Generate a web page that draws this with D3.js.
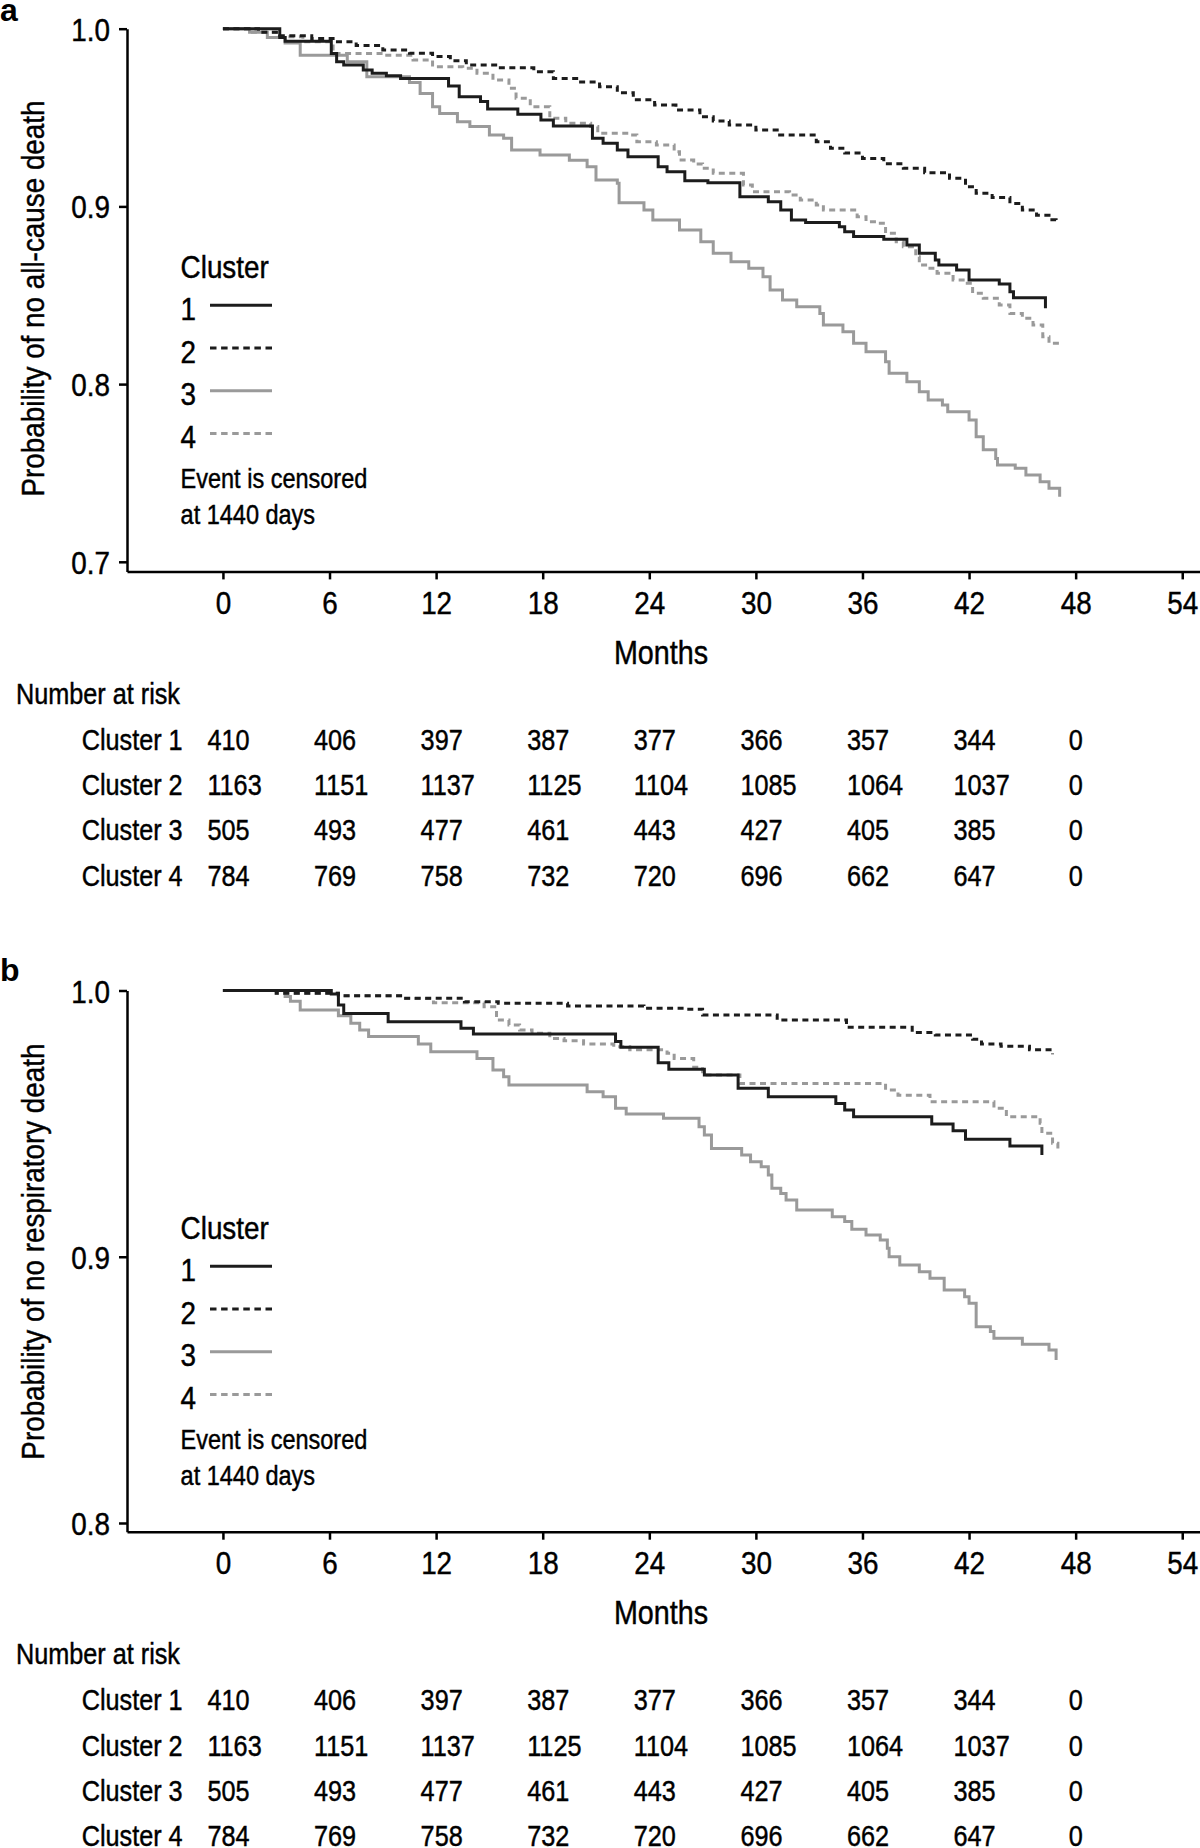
<!DOCTYPE html>
<html>
<head>
<meta charset="utf-8">
<script src="https://cdn.jsdelivr.net/npm/d3@7"></script>
<style>
  html, body { margin: 0; padding: 0; background: #fff; }
  svg { display: block; }
</style>
</head>
<body>
<div id="chart"></div>
<script>
// ---------------- DATA ----------------
const xTicks = [0, 6, 12, 18, 24, 30, 36, 42, 48, 54];
const yTicksA = [0.7, 0.8, 0.9, 1.0];
const yTicksB = [0.8, 0.9, 1.0];
const clusterNames = ["1", "2", "3", "4"];
const rowLabels = ["Cluster 1", "Cluster 2", "Cluster 3", "Cluster 4"];
const riskTimes = [0, 6, 12, 18, 24, 30, 36, 42, 48];
const riskC1 = [410, 406, 397, 387, 377, 366, 357, 344, 0];
const riskC2 = [1163, 1151, 1137, 1125, 1104, 1085, 1064, 1037, 0];
const riskC3 = [505, 493, 477, 461, 443, 427, 405, 385, 0];
const riskC4 = [784, 769, 758, 732, 720, 696, 662, 647, 0];

// Panel a: all-cause death (months, survival)
const aC1t = [0,3.2,3.5,6.1,6.4,6.8,7.9,8.4,9.2,10.0,12.7,13.3,14.5,14.9,16.6,17.9,18.6,20.8,21.4,22.2,22.8,24.5,25.0,26.0,27.3,29.1,30.7,31.4,32.0,32.8,34.7,35.0,35.5,37.2,38.5,39.2,40.1,40.3,41.3,42.0,43.7,44.3,44.5,46.3];
const aC1s = [1,0.995,0.993,0.986,0.9814,0.9796,0.9768,0.975,0.9735,0.972,0.9677,0.9617,0.959,0.9548,0.9518,0.9486,0.9452,0.9383,0.9355,0.9317,0.928,0.9223,0.9195,0.9145,0.9133,0.9055,0.9026,0.898,0.8923,0.891,0.8885,0.8858,0.883,0.8815,0.8783,0.8736,0.8698,0.867,0.8642,0.8586,0.8563,0.852,0.8486,0.8427];
const aC2t = [0,2.0,3.2,5.0,6.2,7.5,9.0,10.5,11.8,12.8,13.7,15.5,17.5,18.6,20.0,21.2,22.2,23.1,24.3,25.5,26.85,27.6,28.5,30.0,31.2,33.4,34.2,35.0,36.0,37.2,38.3,39.5,40.9,41.8,42.4,43.3,44.3,45.0,45.8,46.5,46.9];
const aC2s = [1,0.998,0.996,0.9945,0.9927,0.9905,0.988,0.9862,0.9843,0.982,0.9796,0.978,0.9758,0.972,0.97,0.9674,0.964,0.96,0.957,0.9542,0.9505,0.948,0.9458,0.943,0.9402,0.9364,0.9327,0.930,0.927,0.924,0.9214,0.919,0.9158,0.9111,0.9074,0.905,0.9017,0.898,0.895,0.8925,0.8905];
const aC3t = [0,1.5,2.5,3.5,4.35,7.0,8.1,10.5,11.1,11.8,12.2,13.2,13.9,15.0,15.8,16.25,17.85,19.5,20.5,21.0,22.2,22.3,23.7,24.2,25.7,26.9,27.6,28.6,29.6,30.4,30.8,31.5,32.3,33.6,33.8,34.9,35.5,36.2,37.3,37.5,38.5,39.2,39.7,40.5,40.8,42.0,42.4,42.8,43.5,43.6,44.6,45.2,46.0,46.5,47.1];
const aC3s = [1,0.998,0.995,0.992,0.985,0.9814,0.973,0.9697,0.9636,0.9561,0.9523,0.9477,0.9449,0.9402,0.9383,0.9317,0.9289,0.926,0.9223,0.9149,0.913,0.9021,0.898,0.8923,0.8867,0.8801,0.8736,0.8689,0.8652,0.8604,0.853,0.8473,0.8436,0.8398,0.8333,0.8295,0.823,0.8182,0.8126,0.8061,0.8013,0.7957,0.791,0.7882,0.7845,0.7798,0.7704,0.763,0.7582,0.7545,0.7526,0.7489,0.7451,0.7414,0.7366];
const aC4t = [0,1.5,3.0,4.5,6.2,9.0,10.7,11.8,13.5,14.3,15.2,16.1,16.5,17.3,18.4,19.3,20.7,21.1,22.9,23.3,24.4,25.4,25.7,26.5,27.0,27.6,29.3,29.8,31.9,32.5,33.4,33.8,35.7,36.2,36.8,37.3,37.9,38.3,39.0,39.2,39.8,40.2,41.1,41.8,42.2,42.8,43.7,44.3,45.0,45.6,46.15,46.5,47.1];
const aC4s = [1,0.998,0.9955,0.9926,0.986,0.985,0.9824,0.9786,0.9777,0.9749,0.9711,0.9665,0.9608,0.9561,0.9496,0.9468,0.9449,0.9411,0.9402,0.9364,0.9346,0.9308,0.9261,0.9239,0.9214,0.9186,0.912,0.9083,0.9064,0.9036,0.9008,0.898,0.8942,0.8914,0.8905,0.8849,0.8801,0.8773,0.8717,0.867,0.8652,0.8624,0.8586,0.8567,0.8511,0.8483,0.8445,0.8398,0.837,0.8333,0.8267,0.823,0.8211];

// Panel b: respiratory death
const bC1t = [0,6.1,6.5,6.8,9.3,13.4,14.1,22.1,22.4,24.5,25.1,27.1,29.0,30.7,34.5,35.0,35.5,39.9,41.1,41.8,44.3,46.1];
const bC1s = [1,0.9987,0.9946,0.9914,0.9883,0.9858,0.9837,0.9808,0.9787,0.9729,0.9704,0.9683,0.9633,0.9601,0.9576,0.9551,0.9526,0.9499,0.9473,0.9441,0.9416,0.9382];
const bC2t = [0,3.0,6.5,10.0,13.6,15.5,19.4,23.7,26.0,27.0,31.2,35.1,38.8,40.1,42.2,42.7,43.8,45.4,46.7];
const bC2s = [1,0.999,0.998,0.9971,0.9958,0.9952,0.9942,0.9933,0.993,0.9908,0.9889,0.9862,0.9842,0.9833,0.9817,0.9799,0.9791,0.9777,0.9761];
const bC3t = [0,3.5,3.8,4.35,6.5,7.2,7.7,8.2,11.0,11.7,14.3,15.2,15.8,16.1,20.5,21.4,22.1,22.7,24.8,26.8,27.1,27.5,29.2,29.7,30.3,30.7,30.9,31.4,31.7,32.3,34.3,35.0,35.4,36.2,37.0,37.4,37.5,38.1,39.2,39.8,40.6,41.75,42.0,42.4,43.2,43.4,45.0,46.5,46.9];
const bC3s = [1,0.9977,0.996,0.9927,0.9905,0.9877,0.9852,0.9827,0.9799,0.977,0.9745,0.9701,0.9676,0.9645,0.962,0.9601,0.9558,0.9536,0.952,0.9488,0.9457,0.9407,0.9382,0.9357,0.9338,0.9307,0.9257,0.9238,0.9213,0.9176,0.915,0.9132,0.9103,0.9082,0.9063,0.9032,0.9,0.8969,0.8944,0.8919,0.8875,0.885,0.8825,0.8737,0.8719,0.8694,0.8671,0.865,0.8612];
const bC4t = [0,3.0,6.5,10.0,11.85,14.7,15.4,16.1,16.7,17.4,18.4,19.2,20.3,22.0,22.9,25.0,25.4,26.5,27.0,29.1,37.3,38.0,39.8,43.4,44.1,46.0,46.1,46.7,47.0];
const bC4s = [1,0.999,0.998,0.997,0.9954,0.9939,0.9889,0.987,0.9852,0.9839,0.982,0.9811,0.9799,0.9789,0.9777,0.9764,0.9745,0.9712,0.9683,0.9651,0.9626,0.9607,0.9582,0.9558,0.9526,0.9501,0.9464,0.9426,0.9407];

// ---------------- STYLE / LAYOUT ----------------
const W = 1200, H = 1848;
const FONT = "'Liberation Sans', Arial, Helvetica, sans-serif";
const SX = 0.87;           // horizontal condensing of text
const TSTROKE = 0.45;      // slight text thickening
const BLACK = "#1c1c1c", GRAY = "#9a9a9a";
const DASH = "6,4.5";
const seriesStyle = [
  {color: BLACK, dash: null},
  {color: BLACK, dash: DASH},
  {color: GRAY, dash: null},
  {color: GRAY, dash: DASH}
];

const svg = d3.select("#chart").append("svg")
  .attr("width", W).attr("height", H)
  .attr("viewBox", `0 0 ${W} ${H}`);

function addText(g, x, y, str, size, anchor, weight, rotate, sx) {
  const s = sx === undefined ? SX : sx;
  return g.append("text")
    .attr("transform", `translate(${x},${y})` + (rotate ? ` rotate(${rotate})` : "") + ` scale(${s},1)`)
    .attr("text-anchor", anchor || "start")
    .attr("font-family", FONT)
    .attr("font-size", size)
    .attr("font-weight", weight || "normal")
    .attr("fill", "#000")
    .attr("stroke", "#000")
    .attr("stroke-width", weight === "bold" ? 0 : TSTROKE)
    .text(str);
}

const x = d3.scaleLinear().domain([-5.4, 55]).range([127, 1200]);

function drawPanel(cfg) {
  const g = svg.append("g");
  const y = d3.scaleLinear().domain(cfg.yDomain).range(cfg.yRange);
  const axisY = cfg.yRange[0];

  // panel letter
  addText(g, 0, cfg.letterY, cfg.letter, 32, "start", "bold", 0, 1);

  // curves (gray first, black on top)
  const line = d3.line().x(d => x(d[0])).y(d => y(d[1])).curve(d3.curveStepAfter);
  [3, 2, 1, 0].forEach(i => {
    const pts = d3.zip(cfg.series[i][0], cfg.series[i][1]);
    g.append("path")
      .attr("d", line(pts))
      .attr("fill", "none")
      .attr("stroke", seriesStyle[i].color)
      .attr("stroke-width", 3)
      .attr("stroke-dasharray", seriesStyle[i].dash)
      .attr("stroke-linejoin", "miter");
  });

  // y axis
  const gy = g.append("g").attr("transform", `translate(${x(-5.4)},0)`)
    .call(d3.axisLeft(y).tickValues(cfg.yTicks).tickSize(8).tickSizeOuter(0).tickFormat(d3.format(".1f")));
  gy.attr("font-family", null).attr("font-size", null);
  gy.select(".domain").attr("stroke", "#000").attr("stroke-width", 2.5);
  gy.selectAll(".tick line").attr("stroke", "#000").attr("stroke-width", 2.5);
  gy.selectAll(".tick text")
    .attr("font-family", FONT).attr("font-size", 32).attr("fill", "#000")
    .attr("stroke", "#000").attr("stroke-width", TSTROKE)
    .attr("x", -17 / SX).attr("dy", "0.36em")
    .attr("transform", `scale(${SX},1)`);

  // x axis
  const gx = g.append("g").attr("transform", `translate(0,${axisY})`)
    .call(d3.axisBottom(x).tickValues(xTicks).tickSize(8).tickSizeOuter(0));
  gx.attr("font-family", null).attr("font-size", null);
  gx.select(".domain").attr("stroke", "#000").attr("stroke-width", 2.5);
  gx.selectAll(".tick line").attr("stroke", "#000").attr("stroke-width", 2.5);
  gx.selectAll(".tick text")
    .attr("font-family", FONT).attr("font-size", 32).attr("fill", "#000")
    .attr("stroke", "#000").attr("stroke-width", TSTROKE)
    .attr("y", 42.6).attr("dy", 0).attr("x", 0)
    .attr("transform", `scale(${SX},1)`);

  // y axis title
  addText(g, 44, cfg.yTitleY, cfg.yTitle, 32, "middle", "normal", -90);

  // x axis title
  addText(g, 661, axisY + 92.6, "Months", 33, "middle");

  // legend
  const L = cfg.legendY; // baseline of "Cluster"
  addText(g, 180.6, L, "Cluster", 32, "start");
  clusterNames.forEach((nm, i) => {
    const by = L + 42.3 + i * 42.7;
    addText(g, 180.6, by, nm, 32, "start");
    g.append("line")
      .attr("x1", 210).attr("x2", 272)
      .attr("y1", by - 14.5).attr("y2", by - 14.5)
      .attr("stroke", seriesStyle[i].color)
      .attr("stroke-width", 3)
      .attr("stroke-dasharray", seriesStyle[i].dash ? "6.5,4.6" : null);
  });
  addText(g, 180.6, L + 210.5, "Event is censored", 27, "start");
  addText(g, 180.6, L + 246, "at 1440 days", 27, "start");

  // number at risk table
  const T = axisY + 132.6; // baseline of "Number at risk"
  addText(g, 16, T, "Number at risk", 29, "start");
  const rows = [riskC1, riskC2, riskC3, riskC4];
  rows.forEach((vals, r) => {
    const by = T + 46 + r * 45.2;
    addText(g, 81.7, by, rowLabels[r], 29, "start");
    vals.forEach((v, j) => {
      const t = riskTimes[j];
      if (t === 48) {
        addText(g, x(t), by, String(v), 29, "middle");
      } else {
        addText(g, x(t) - 15.5, by, String(v), 29, "start");
      }
    });
  });
}

drawPanel({
  letter: "a", letterY: 21,
  yDomain: [0.6946, 1.0], yRange: [571.4, 28.7],
  yTicks: yTicksA,
  yTitle: "Probability of no all-cause death", yTitleY: 298.5,
  legendY: 277.5,
  series: [[aC1t, aC1s], [aC2t, aC2s], [aC3t, aC3s], [aC4t, aC4s]]
});

drawPanel({
  letter: "b", letterY: 981,
  yDomain: [0.79673, 1.0], yRange: [1531.7, 990.5],
  yTicks: yTicksB,
  yTitle: "Probability of no respiratory death", yTitleY: 1251.6,
  legendY: 1238.5,
  series: [[bC1t, bC1s], [bC2t, bC2s], [bC3t, bC3s], [bC4t, bC4s]]
});
</script>
</body>
</html>
